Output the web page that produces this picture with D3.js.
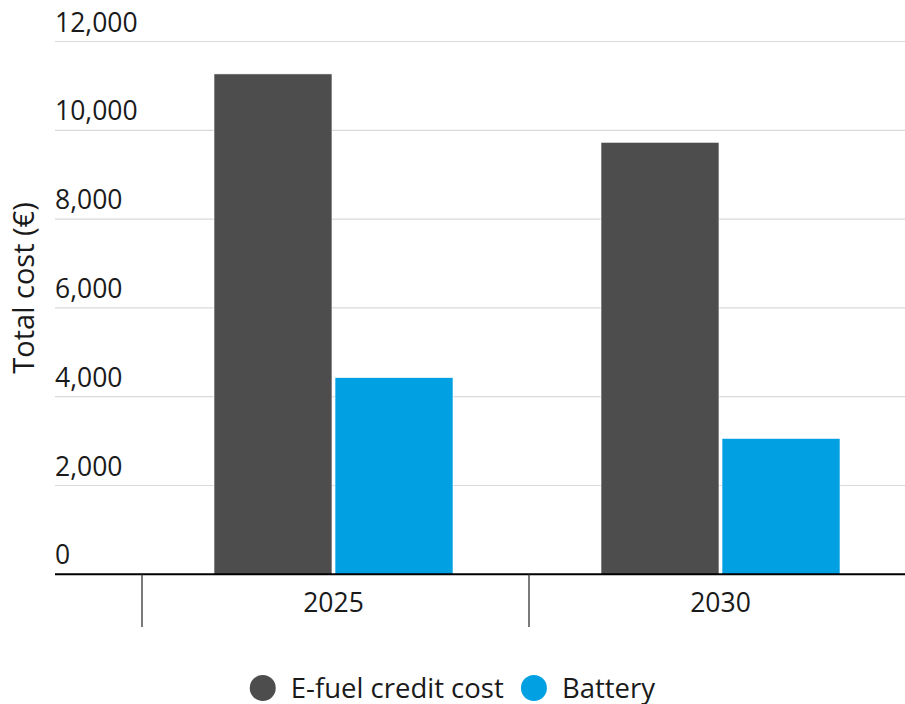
<!DOCTYPE html>
<html>
<head>
<meta charset="utf-8">
<script src="https://cdn.jsdelivr.net/npm/d3@7"></script>
<style>
    body { margin: 0; background: #fff; }
    text { font-family: "Open Sans", sans-serif; fill: #1a1a1a; }
</style>
</head>
<body>
<svg id="chart"></svg>
<script>
var years = ["2025", "2030"];
var seriesNames = ["E-fuel credit cost", "Battery"];
var efuelCost = [11270, 9730];
var batteryCost = [4430, 3060];
var yTicks = [0, 2000, 4000, 6000, 8000, 10000, 12000];
var colors = ["#4d4d4d", "#00a0e2"];

var width = 905,
    height = 704;

var data = years.map(function(y, i) {
    return {year: y, values: [efuelCost[i], batteryCost[i]]};
});

var svg = d3.select("#chart")
    .attr("width", width)
    .attr("height", height);

var yScale = d3.scaleLinear()
    .domain([0, 12000])
    .range([574.3, 41.5]);

var xScale = d3.scaleBand()
    .domain(years)
    .range([142, 916]);

var x1 = d3.scaleBand()
    .domain(seriesNames)
    .range([72, 311])
    .paddingInner(0.025);

// gridlines + labels
var grid = svg.append("g").attr("class", "grid");
grid.selectAll("line")
    .data(yTicks.filter(function(d) { return d > 0; }))
    .enter().append("line")
    .attr("x1", 55)
    .attr("x2", width)
    .attr("y1", function(d) { return yScale(d); })
    .attr("y2", function(d) { return yScale(d); })
    .attr("stroke", "#d9d9d9")
    .attr("stroke-width", 1.2);

grid.selectAll("text")
    .data(yTicks)
    .enter().append("text")
    .attr("x", 55)
    .attr("y", function(d) { return yScale(d) - 10; })
    .style("font-size", "26.5px")
    .text(function(d) { return d3.format(",")(d); });

// bars
var groups = svg.selectAll(".group")
    .data(data)
    .enter().append("g")
    .attr("class", "group")
    .attr("transform", function(d) { return "translate(" + xScale(d.year) + ",0)"; });

groups.selectAll("rect")
    .data(function(d) { return d.values.map(function(v, i) { return {name: seriesNames[i], value: v, i: i}; }); })
    .enter().append("rect")
    .attr("x", function(d) { return x1(d.name); })
    .attr("y", function(d) { return yScale(d.value); })
    .attr("width", x1.bandwidth())
    .attr("height", function(d) { return yScale(0) - yScale(d.value); })
    .attr("fill", function(d) { return colors[d.i]; })
    .attr("stroke", "#fff")
    .attr("stroke-width", 0.6);

// x axis
var xAxis = svg.append("g").attr("class", "x axis");
xAxis.append("line")
    .attr("x1", 55)
    .attr("x2", width)
    .attr("y1", yScale(0))
    .attr("y2", yScale(0))
    .attr("stroke", "#000")
    .attr("stroke-width", 2);

xAxis.selectAll(".tick")
    .data(years)
    .enter().append("line")
    .attr("class", "tick")
    .attr("x1", function(d) { return xScale(d); })
    .attr("x2", function(d) { return xScale(d); })
    .attr("y1", yScale(0))
    .attr("y2", 627)
    .attr("stroke", "#333")
    .attr("stroke-width", 1.3);

xAxis.selectAll("text")
    .data(years)
    .enter().append("text")
    .attr("x", function(d) { return xScale(d) + xScale.bandwidth() / 2 - 2; })
    .attr("y", 612)
    .attr("text-anchor", "middle")
    .style("font-size", "26.5px")
    .text(function(d) { return d; });

// y title
svg.append("text")
    .attr("transform", "translate(34,288) rotate(-90)")
    .attr("text-anchor", "middle")
    .style("font-size", "29px")
    .text("Total cost (€)");

// legend
var legend = svg.append("g").attr("class", "legend");
var items = legend.selectAll("g")
    .data(seriesNames)
    .enter().append("g");
items.append("circle")
    .attr("r", 13)
    .attr("cx", 13)
    .attr("cy", 0)
    .attr("fill", function(d, i) { return colors[i]; });
items.append("text")
    .attr("x", 41)
    .attr("y", 9.5)
    .style("font-size", "27.5px")
    .text(function(d) { return d; });

var offset = 0;
items.each(function() {
    var w = this.getBBox().width;
    d3.select(this).attr("transform", "translate(" + offset + ",0)");
    offset += w + 17;
});
offset -= 17;
legend.attr("transform", "translate(" + (width / 2 - offset / 2) + ",688)");
</script>
</body>
</html>
